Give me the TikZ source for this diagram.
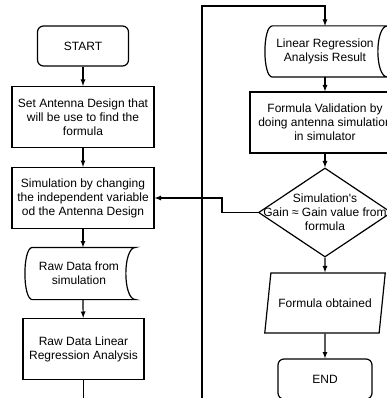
\documentclass[tikz,border=0pt]{standalone}
\usepackage{fontspec}
\setmainfont{Liberation Sans}
\usetikzlibrary{shapes.geometric,arrows.meta}

% outline of a "stored data" box around a named node
\newcommand{\storedata}[1]{%
\draw (#1.north west) -- ([xshift=10pt]#1.north east)
  .. controls ([xshift=-3pt]#1.north east) and ([xshift=-3pt]#1.south east) .. ([xshift=10pt]#1.south east)
  -- (#1.south west)
  .. controls ([xshift=-10pt]#1.south west) and ([xshift=-10pt]#1.north west) .. (#1.north west);}

\begin{document}
\begin{tikzpicture}[x=1pt,y=-1pt,line width=1.2pt,font=\fontsize{12}{14}\selectfont]

\tikzstyle{process}=[draw, rectangle, align=center, inner sep=0pt]
\tikzstyle{terminal}=[process, rounded corners=6pt]
\tikzstyle{storage}=[rectangle, align=center, inner sep=0pt]
\tikzstyle{flow}=[-latex]

%%% PAGE %%%
\useasboundingbox (0,0) rectangle (387,398);
\clip (0,0) rectangle (387,398);

%%% LEFT COLUMN %%%
\node[terminal, minimum width=91, minimum height=40] (start) at (83,46) {START};
\node[process, minimum width=142, minimum height=61] (design) at (83,117) {Set Antenna Design that\\will be use to find the\\formula};
\node[process, minimum width=142, minimum height=61] (simul) at (83,198) {Simulation by changing\\the independent variable\\od the Antenna Design};
\node[storage, minimum width=92, minimum height=51] (raw) at (79,273.5) {Raw Data from\\simulation};
\node[process, minimum width=121, minimum height=61] (lra) at (83.5,349) {Raw Data Linear\\Regression Analysis};

%%% RIGHT COLUMN %%%
\node[storage, minimum width=104, minimum height=50] (result) at (325,51.5) {Linear Regression\\Analysis Result};
\node[process, minimum width=150, minimum height=61] (valid) at (325,122.5) {Formula Validation by\\doing antenna simulation\\in simulator};
\node[diamond, draw, inner sep=0pt, minimum width=133, minimum height=89,
  label={[align=center]center:Simulation\textquotesingle s\\Gain ≈ Gain value from\\formula}] (check) at (325,212.5) {};
\node[trapezium, draw, trapezium left angle=66, trapezium right angle=114, trapezium stretches=true,
  inner xsep=-12pt, inner ysep=0pt, minimum width=121, minimum height=60] (obtained) at (325,303) {Formula obtained};
\node[terminal, minimum width=94, minimum height=40] (end) at (325,379) {END};

\storedata{raw}
\storedata{result}

%%% ARROWS %%%
\draw[flow] (start) -- (design);
\draw[flow] (design) -- (simul);
\draw[flow] (simul.south) -- (simul.south |- raw.north);
\draw[flow] (simul.south |- raw.south) -- (lra);

\coordinate (loopbot) at (202,415);
\coordinate (looptop) at (202,6);
\draw[flow] (lra.south) |- (loopbot) -- (looptop) -| (result.north);

\draw[flow] (result) -- (valid);
\draw[flow] (valid) -- (check);
\draw[flow] (check) -- (obtained);
\draw[flow] (obtained) -- (end);
\draw[flow] (check.west) -- ++(-36,0) |- (simul.east);

\end{tikzpicture}
\end{document}
